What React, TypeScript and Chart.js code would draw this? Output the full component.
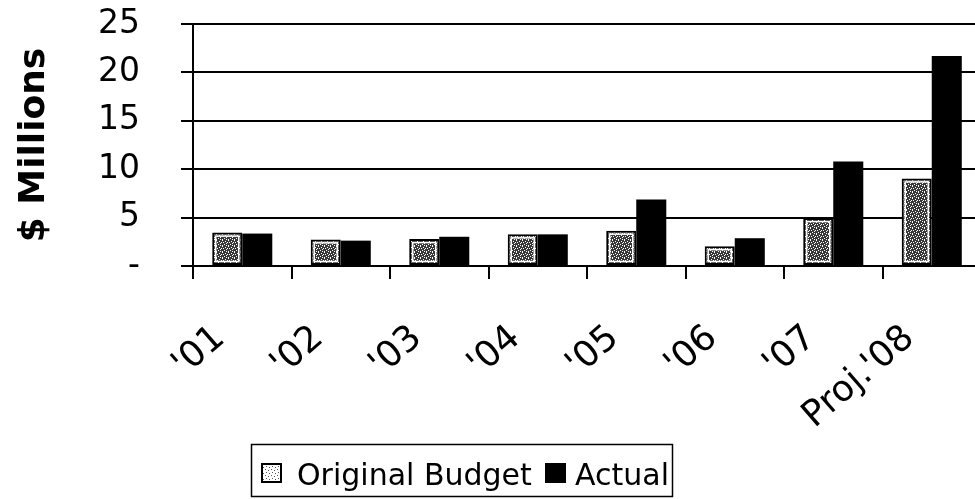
import React, { useEffect, useRef } from "react";
import { Chart, registerables } from "chart.js";

Chart.register(...registerables);

const categories = ["'01", "'02", "'03", "'04", "'05", "'06", "'07", "Proj.'08"];
const originalBudget = [3.45, 2.75, 2.78, 3.27, 3.65, 2.05, 4.95, 9.05];
const actual = [3.35, 2.62, 3.02, 3.27, 6.87, 2.87, 10.8, 21.7];
const yTickValues = [0, 5, 10, 15, 20, 25];
const yTickLabels = ["-", "5", "10", "15", "20", "25"];
const seriesLabels = ["Original Budget", "Actual"];
const yTitle = "$ Millions";

const FONT = "'DejaVu Sans', sans-serif";

function makeStipple(base: string, dot: string, dots: number[][], size: number) {
  const pc = document.createElement("canvas");
  pc.width = size;
  pc.height = size;
  const g = pc.getContext("2d")!;
  g.fillStyle = base;
  g.fillRect(0, 0, size, size);
  g.fillStyle = dot;
  dots.forEach(([x, y]) => g.fillRect(x, y, 1, 1));
  return pc;
}

export default function App() {
  const ref = useRef<HTMLCanvasElement | null>(null);

  useEffect(() => {
    const canvas = ref.current!;
    const ctx = canvas.getContext("2d")!;
    const darkTile = makeStipple(
      "#383838",
      "#ffffff",
      [[0, 0], [3, 1], [1, 2], [5, 2], [2, 4], [4, 3], [0, 5], [4, 5]],
      6
    );
    const lightTile = makeStipple("#ffffff", "#555555", [[1, 1], [4, 2], [2, 4], [5, 5]], 6);
    const budgetFill = ctx.createPattern(darkTile, "repeat")!;
    const legendFill = ctx.createPattern(lightTile, "repeat")!;

    const innerLine = {
      id: "innerLine",
      afterDatasetsDraw(chart: any) {
        const meta = chart.getDatasetMeta(0);
        const c = chart.ctx;
        c.save();
        c.strokeStyle = "#ffffff";
        c.lineWidth = 1.5;
        meta.data.forEach((bar: any) => {
          const { x, y, base, width } = bar.getProps(["x", "y", "base", "width"], true);
          const h = base - y;
          if (h > 8) c.strokeRect(x - width / 2 + 3.5, y + 3.5, width - 7, h - 7);
        });
        c.restore();
      },
    };

    const boxLegend = {
      id: "boxLegend",
      afterDraw(chart: any) {
        const c = chart.ctx;
        c.save();
        c.strokeStyle = "#000";
        c.lineWidth = 1.5;
        c.strokeRect(251.5, 444.5, 421, 52);
        c.fillStyle = legendFill;
        c.fillRect(262, 464, 19, 18);
        c.lineWidth = 2;
        c.strokeRect(262, 464, 19, 18);
        c.fillStyle = "#000";
        c.fillRect(545, 463, 21, 20);
        c.font = `30px ${FONT}`;
        c.textBaseline = "alphabetic";
        c.textAlign = "left";
        c.fillText(chart.data.datasets[0].label, 297, 485);
        c.fillText(chart.data.datasets[1].label, 575, 485);
        c.restore();
      },
    };

    const chart = new Chart(canvas, {
      type: "bar",
      data: {
        labels: categories,
        datasets: [
          {
            label: seriesLabels[0],
            data: originalBudget,
            backgroundColor: budgetFill as any,
            borderColor: "#000",
            borderWidth: 2,
            borderSkipped: false,
            categoryPercentage: 0.61,
            barPercentage: 1,
          },
          {
            label: seriesLabels[1],
            data: actual,
            backgroundColor: "#000",
            borderColor: "#000",
            borderWidth: 0,
            categoryPercentage: 0.61,
            barPercentage: 1,
          },
        ],
      },
      options: {
        animation: false,
        responsive: false,
        devicePixelRatio: 1,
        layout: { padding: { top: 24, right: 1, left: 0, bottom: 0 } },
        plugins: {
          legend: { display: false },
          tooltip: { enabled: false },
        },
        scales: {
          x: {
            type: "category",
            offset: true,
            grid: {
              display: true,
              drawOnChartArea: false,
              offset: true,
              color: "#000",
              lineWidth: 2,
              tickLength: 13,
              tickColor: "#000",
              tickWidth: 2,
            },
            border: { display: true, color: "#000", width: 2 },
            ticks: {
              color: "#000",
              font: { family: FONT, size: 36 },
              minRotation: 41,
              maxRotation: 41,
              padding: 38,
              labelOffset: -22,
              autoSkip: false,
            },
            afterFit: (s: any) => {
              s.height = 233;
              s.paddingLeft = 0;
              s.paddingRight = 0;
            },
          },
          y: {
            min: 0,
            max: 25,
            afterBuildTicks: (s: any) => {
              s.ticks = yTickValues.map((v) => ({ value: v }));
            },
            ticks: {
              color: "#000",
              font: { family: FONT, size: 33 },
              padding: 41,
              autoSkip: false,
              callback: (v: any) => {
                const i = yTickValues.indexOf(Number(v));
                return i >= 0 ? yTickLabels[i] : "";
              },
            },
            grid: {
              color: "#000",
              lineWidth: 2,
              tickLength: 12,
              drawTicks: true,
            },
            border: { display: true, color: "#000", width: 2 },
            title: {
              display: true,
              text: yTitle,
              color: "#000",
              font: { family: FONT, size: 36, weight: "bold" },
              padding: { top: 13, bottom: 0 },
            },
            afterFit: (s: any) => {
              s.width = 193;
              s.paddingTop = 0;
              s.paddingBottom = 0;
            },
          },
        },
      },
      plugins: [innerLine, boxLegend],
    } as any);

    return () => chart.destroy();
  }, []);

  return (
    <div style={{ position: "fixed", left: 0, top: 0, width: 982, height: 499, background: "#fff" }}>
      <canvas ref={ref} width={982} height={499} style={{ display: "block" }} />
    </div>
  );
}
